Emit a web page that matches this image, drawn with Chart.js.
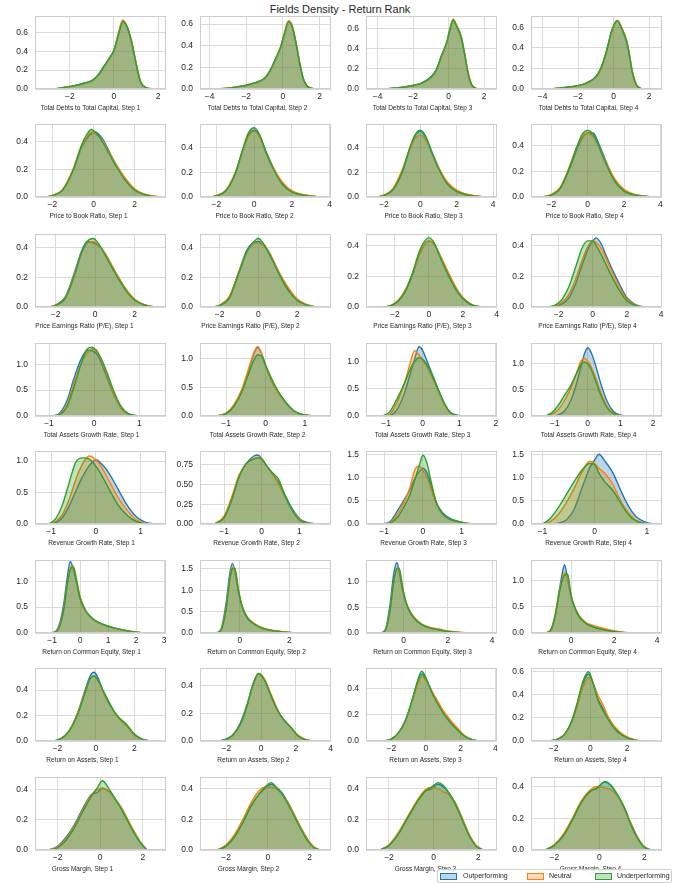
<!DOCTYPE html>
<html>
<head>
<meta charset="utf-8">
<script src="https://cdn.jsdelivr.net/npm/chart.js@4.4.1/dist/chart.umd.min.js"></script>
<style>
  body { margin: 0; background: #fff; font-family: "Liberation Sans", Arial, sans-serif; }
  #page { position: relative; width: 690px; height: 883px; overflow: hidden; }
  #title { position: absolute; left: 0; top: 3px; width: 680px; text-align: center; font-size: 11px; line-height: 12px; color: #262626; }
  canvas { position: absolute; }
  #legend { position: absolute; left: 437px; top: 869px; width: 233px; height: 12px; border: 1px solid #d0d0d0; border-radius: 2px; background: rgba(255,255,255,0.85); z-index: 5; font-size: 7px; color: #262626; }
  #legend i { position: absolute; top: 3px; width: 15px; height: 5px; border: 1px solid; }
  #legend span { position: absolute; top: 1px; line-height: 10px; }
</style>
</head>
<body>
<div id="page">
  <div id="title">Fields Density - Return Rank</div>
  <div id="legend">
    <i style="left:2px;background:rgba(31,119,180,0.3);border-color:#1f77b4"></i><span style="left:25px">Outperforming</span>
    <i style="left:89px;background:rgba(255,127,14,0.3);border-color:#ff7f0e"></i><span style="left:111px">Neutral</span>
    <i style="left:157px;background:rgba(44,160,44,0.3);border-color:#2ca02c"></i><span style="left:179px">Underperforming</span>
  </div>
</div>
<script>
// ---- data: one row per field, one inner list per step ----
const fieldNames = ['Total Debts to Total Capital', 'Price to Book Ratio', 'Price Earnings Ratio (P/E)',
  'Total Assets Growth Rate', 'Revenue Growth Rate', 'Return on Common Equity', 'Return on Assets', 'Gross Margin'];
const seriesNames = ['Outperforming', 'Neutral', 'Underperforming'];

// Total Debts to Total Capital
const debtX = [
  [-2.7,-2.2,-1.8,-1.4,-1.0,-0.7,-0.45,-0.2,0.0,0.2,0.4,0.6,0.8,1.0,1.2,1.45,1.8],
  [-3.6,-3.0,-2.5,-2.0,-1.5,-1.0,-0.7,-0.4,-0.1,0.1,0.3,0.5,0.7,0.9,1.1,1.3,1.6,1.9],
  [-3.6,-3.0,-2.5,-2.0,-1.5,-1.0,-0.7,-0.4,-0.1,0.1,0.25,0.45,0.7,0.9,1.1,1.3,1.6],
  [-3.6,-3.0,-2.5,-2.0,-1.5,-1.0,-0.7,-0.4,-0.1,0.2,0.5,0.75,0.9,1.05,1.3,1.6]];
const debtOut = [
  [0,0.02,0.035,0.06,0.09,0.155,0.245,0.33,0.41,0.58,0.72,0.65,0.5,0.28,0.08,0.015,0],
  [0,0.008,0.02,0.035,0.058,0.1,0.17,0.28,0.4,0.52,0.62,0.58,0.44,0.25,0.1,0.03,0.005,0],
  [0,0.01,0.02,0.036,0.06,0.12,0.19,0.33,0.46,0.6,0.68,0.62,0.52,0.35,0.15,0.04,0],
  [0,0.01,0.02,0.033,0.06,0.12,0.21,0.37,0.57,0.665,0.58,0.46,0.32,0.17,0.035,0]];
const debtNeu = [
  [0,0.018,0.033,0.055,0.085,0.15,0.235,0.325,0.41,0.59,0.73,0.66,0.5,0.28,0.085,0.015,0],
  [0,0.008,0.018,0.033,0.055,0.1,0.17,0.27,0.4,0.53,0.63,0.59,0.44,0.26,0.1,0.03,0.005,0],
  [0,0.01,0.02,0.034,0.055,0.11,0.18,0.32,0.46,0.61,0.69,0.63,0.52,0.35,0.16,0.045,0],
  [0,0.01,0.02,0.032,0.058,0.115,0.2,0.36,0.56,0.67,0.58,0.46,0.33,0.18,0.04,0]];
const debtUnd = [
  [0,0.02,0.035,0.058,0.088,0.15,0.24,0.33,0.41,0.57,0.71,0.66,0.5,0.27,0.08,0.015,0],
  [0,0.008,0.02,0.035,0.058,0.1,0.17,0.28,0.4,0.52,0.62,0.58,0.43,0.25,0.1,0.03,0.005,0],
  [0,0.01,0.02,0.035,0.058,0.115,0.185,0.33,0.47,0.61,0.68,0.62,0.51,0.34,0.15,0.04,0],
  [0,0.01,0.02,0.033,0.06,0.12,0.21,0.37,0.57,0.665,0.57,0.45,0.32,0.17,0.035,0]];
const debtXLim = [[-3.58,2.36],[-4.52,2.62],[-4.65,2.72],[-4.66,2.73]];
const debtYMax = [0.773,0.674,0.72,0.711];
const debtXTicks = [[-2,0,2],[-4,-2,0,2],[-4,-2,0,2],[-4,-2,0,2]];
const debtYTicks = [[0,0.2,0.4,0.6],[0,0.2,0.4,0.6],[0,0.2,0.4,0.6],[0,0.2,0.4,0.6]];

// Price to Book Ratio
const pbX = [
  [-2.3,-2.0,-1.5,-1.0,-0.6,-0.3,-0.1,0.1,0.4,0.7,1.0,1.5,2.0,2.5,3.0,3.3],
  [-2.3,-2.0,-1.5,-1.0,-0.6,-0.3,0.0,0.3,0.6,1.0,1.5,2.0,2.5,3.0,3.5],
  [-2.4,-2.0,-1.5,-1.0,-0.6,-0.3,0.0,0.3,0.6,1.0,1.5,2.0,2.5,3.0,3.6],
  [-2.5,-2.0,-1.5,-1.0,-0.6,-0.3,0.0,0.3,0.6,1.0,1.5,2.0,2.5,3.0,3.6]];
const pbOut = [
  [0,0.01,0.05,0.19,0.35,0.43,0.46,0.47,0.43,0.35,0.26,0.14,0.055,0.018,0.004,0],
  [0,0.01,0.05,0.19,0.38,0.5,0.54,0.49,0.38,0.24,0.11,0.045,0.02,0.008,0],
  [0,0.012,0.06,0.2,0.38,0.49,0.53,0.48,0.38,0.24,0.11,0.05,0.022,0.008,0],
  [0,0.015,0.07,0.22,0.37,0.46,0.5,0.5,0.42,0.28,0.13,0.05,0.02,0.008,0]];
const pbNeu = [
  [0,0.012,0.055,0.2,0.36,0.44,0.47,0.46,0.42,0.34,0.26,0.145,0.058,0.02,0.005,0],
  [0,0.012,0.055,0.2,0.38,0.49,0.53,0.48,0.37,0.24,0.12,0.05,0.022,0.01,0],
  [0,0.014,0.07,0.22,0.38,0.47,0.5,0.46,0.37,0.24,0.12,0.055,0.025,0.01,0],
  [0,0.02,0.08,0.24,0.39,0.47,0.5,0.47,0.4,0.27,0.14,0.06,0.025,0.01,0]];
const pbUnd = [
  [0,0.01,0.05,0.19,0.37,0.46,0.49,0.47,0.41,0.33,0.25,0.13,0.05,0.015,0.003,0],
  [0,0.01,0.05,0.19,0.39,0.52,0.56,0.5,0.37,0.23,0.1,0.04,0.017,0.006,0],
  [0,0.012,0.06,0.2,0.39,0.5,0.54,0.49,0.37,0.23,0.1,0.045,0.018,0.006,0],
  [0,0.015,0.07,0.23,0.39,0.49,0.52,0.49,0.4,0.26,0.12,0.045,0.018,0.006,0]];
const pbXLim = [[-2.84,3.52],[-2.87,4.07],[-2.99,4.22],[-3.12,4.09]];
const pbYMax = [0.53,0.59,0.59,0.57];
const pbXTicks = [[-2,0,2],[-2,0,2,4],[-2,0,2,4],[-2,0,2,4]];
const pbYTicks = [[0,0.2,0.4],[0,0.2,0.4],[0,0.2,0.4],[0,0.2,0.4]];

// Price Earnings Ratio (P/E)
const peX = [
  [-2.3,-2.0,-1.5,-1.0,-0.7,-0.4,-0.1,0.2,0.5,1.0,1.5,2.0,2.5,3.0],
  [-2.3,-2.0,-1.5,-1.0,-0.6,-0.3,0.0,0.3,0.6,1.0,1.5,2.0,2.5,3.0],
  [-2.6,-2.2,-1.8,-1.4,-1.0,-0.6,-0.3,0.0,0.3,0.6,1.0,1.4,1.8,2.2,2.6,3.1],
  [-2.6,-2.2,-1.8,-1.4,-1.0,-0.6,-0.3,0.0,0.2,0.5,0.8,1.2,1.6,2.0,2.5,3.0]];
const peOut = [
  [0,0.012,0.07,0.25,0.37,0.44,0.43,0.41,0.36,0.24,0.13,0.05,0.014,0],
  [0,0.012,0.07,0.24,0.38,0.43,0.44,0.41,0.35,0.25,0.13,0.05,0.015,0],
  [0,0.01,0.04,0.1,0.2,0.33,0.4,0.43,0.41,0.35,0.25,0.16,0.09,0.04,0.012,0],
  [0,0.005,0.02,0.06,0.15,0.28,0.37,0.43,0.45,0.41,0.33,0.23,0.14,0.06,0.015,0]];
const peNeu = [
  [0,0.012,0.065,0.24,0.36,0.43,0.44,0.41,0.36,0.24,0.13,0.052,0.015,0],
  [0,0.012,0.07,0.24,0.37,0.42,0.43,0.41,0.36,0.25,0.14,0.055,0.016,0],
  [0,0.012,0.045,0.11,0.21,0.33,0.4,0.43,0.41,0.35,0.26,0.17,0.09,0.04,0.012,0],
  [0,0.008,0.03,0.08,0.18,0.31,0.39,0.43,0.42,0.38,0.31,0.21,0.12,0.05,0.013,0]];
const peUnd = [
  [0,0.01,0.06,0.23,0.36,0.44,0.46,0.42,0.35,0.23,0.12,0.045,0.012,0],
  [0,0.01,0.06,0.23,0.37,0.43,0.46,0.42,0.35,0.24,0.12,0.045,0.012,0],
  [0,0.01,0.04,0.1,0.21,0.35,0.42,0.45,0.42,0.34,0.24,0.15,0.08,0.035,0.01,0],
  [0,0.012,0.05,0.13,0.26,0.39,0.43,0.43,0.4,0.34,0.27,0.18,0.1,0.04,0.01,0]];
const peXLim = [[-3.04,3.58],[-3.02,3.76],[-3.71,4.02],[-3.61,4.05]];
const peYMax = [0.49,0.49,0.475,0.475];
const peXTicks = [[-2,0,2],[-2,0,2],[-2,0,2,4],[-2,0,2,4]];
const peYTicks = [[0,0.2,0.4],[0,0.2,0.4],[0,0.2,0.4],[0,0.2,0.4]];

// Total Assets Growth Rate
const tagX = [
  [-0.95,-0.8,-0.6,-0.45,-0.3,-0.15,-0.05,0.05,0.15,0.3,0.45,0.6,0.75,0.9,1.1],
  [-1.25,-1.0,-0.8,-0.6,-0.45,-0.3,-0.2,-0.1,0.0,0.15,0.3,0.5,0.7,0.9,1.1,1.3],
  [-1.1,-0.9,-0.7,-0.5,-0.35,-0.22,-0.1,0.0,0.15,0.3,0.45,0.6,0.75,0.9,1.1,1.3],
  [-1.3,-1.1,-0.9,-0.7,-0.5,-0.35,-0.2,-0.1,0.0,0.1,0.25,0.4,0.6,0.8,1.0,1.2]];
const tagOut = [
  [0,0.03,0.3,0.72,1.08,1.27,1.26,1.2,1.05,0.7,0.38,0.14,0.04,0.01,0],
  [0,0.04,0.18,0.45,0.75,1.08,1.2,1.1,0.88,0.62,0.44,0.25,0.1,0.03,0.01,0],
  [0,0.01,0.12,0.42,0.75,1.05,1.27,1.2,0.95,0.7,0.45,0.22,0.07,0.02,0.005,0],
  [0,0,0.02,0.1,0.32,0.6,0.95,1.18,1.3,1.22,0.95,0.62,0.27,0.08,0.02,0]];
const tagNeu = [
  [0,0.02,0.22,0.62,1.0,1.22,1.3,1.28,1.1,0.75,0.4,0.15,0.04,0.01,0],
  [0,0.05,0.2,0.47,0.78,1.1,1.22,1.1,0.88,0.62,0.43,0.24,0.1,0.03,0.01,0],
  [0,0.03,0.25,0.6,0.95,1.2,1.12,1.02,0.86,0.65,0.42,0.2,0.06,0.015,0,0],
  [0,0.03,0.12,0.3,0.55,0.8,1.05,1.1,1.05,0.95,0.72,0.45,0.18,0.05,0.01,0]];
const tagUnd = [
  [0,0.015,0.18,0.55,0.98,1.3,1.33,1.25,1.12,0.8,0.45,0.18,0.05,0.01,0],
  [0,0.04,0.17,0.42,0.7,0.97,1.07,1.05,0.9,0.66,0.46,0.25,0.1,0.03,0.01,0],
  [0,0.08,0.32,0.6,0.85,1.0,1.07,1.04,0.9,0.68,0.44,0.22,0.07,0.015,0,0],
  [0,0.06,0.2,0.4,0.6,0.8,0.98,1.03,1.0,0.9,0.66,0.4,0.15,0.04,0.005,0]];
const tagXLim = [[-1.31,1.59],[-1.66,1.66],[-1.55,2.03],[-1.73,2.27]];
const tagYMax = [1.41,1.28,1.34,1.39];
const tagXTicks = [[-1,0,1],[-1,0,1],[-1,0,1,2],[-1,0,1,2]];
const tagYTicks = [[0,0.5,1.0],[0,0.5,1.0],[0,0.5,1.0],[0,0.5,1.0]];

// Revenue Growth Rate
const revX = [
  [-1.05,-0.9,-0.75,-0.6,-0.45,-0.3,-0.15,0.0,0.15,0.3,0.5,0.7,0.9,1.1,1.3],
  [-1.25,-1.0,-0.8,-0.6,-0.4,-0.2,-0.1,0.0,0.15,0.3,0.45,0.6,0.8,1.0,1.2,1.5],
  [-1.05,-0.85,-0.65,-0.5,-0.35,-0.2,-0.1,0.0,0.1,0.2,0.35,0.5,0.7,0.9,1.1,1.4],
  [-1.0,-0.85,-0.7,-0.55,-0.4,-0.25,-0.1,0.0,0.08,0.2,0.35,0.5,0.65,0.8,1.0,1.15]];
const revOut = [
  [0,0.02,0.1,0.28,0.52,0.75,0.92,1.02,0.94,0.8,0.55,0.3,0.12,0.03,0],
  [0,0.08,0.3,0.6,0.77,0.86,0.87,0.82,0.72,0.62,0.52,0.38,0.2,0.07,0.02,0],
  [0,0.05,0.3,0.5,0.72,1.0,1.12,1.2,1.1,0.85,0.45,0.25,0.12,0.06,0.02,0],
  [0,0,0.02,0.08,0.3,0.75,1.2,1.38,1.5,1.35,1.1,0.72,0.38,0.15,0.03,0]];
const revNeu = [
  [0,0.04,0.15,0.38,0.7,0.95,1.08,1.02,0.88,0.68,0.42,0.22,0.07,0.01,0],
  [0,0.1,0.34,0.62,0.76,0.83,0.84,0.82,0.72,0.62,0.5,0.36,0.18,0.06,0.015,0],
  [0,0.03,0.22,0.45,0.75,1.18,1.25,1.15,1.0,0.78,0.42,0.22,0.1,0.05,0.015,0],
  [0,0.05,0.2,0.45,0.75,1.1,1.35,1.3,1.2,1.08,0.85,0.5,0.25,0.08,0.01,0]];
const revUnd = [
  [0,0.08,0.3,0.65,0.98,1.05,1.03,0.92,0.75,0.55,0.3,0.14,0.04,0.005,0],
  [0,0.08,0.3,0.6,0.77,0.82,0.83,0.82,0.72,0.64,0.56,0.38,0.18,0.05,0.012,0],
  [0,0.02,0.15,0.36,0.6,0.98,1.25,1.48,1.32,0.95,0.45,0.22,0.1,0.05,0.015,0],
  [0,0.12,0.35,0.62,0.9,1.15,1.3,1.28,1.1,0.9,0.72,0.45,0.2,0.06,0.008,0]];
const revXLim = [[-1.36,1.57],[-1.64,1.84],[-1.47,1.91],[-1.22,1.29]];
const revYMax = [1.16,0.92,1.57,1.57];
const revXTicks = [[-1,0,1],[-1,0,1],[-1,0,1],[-1,0,1]];
const revYTicks = [[0,0.5,1.0],[0,0.25,0.5,0.75],[0,0.5,1.0,1.5],[0,0.5,1.0,1.5]];

// Return on Common Equity
const roeX = [
  [-1.0,-0.8,-0.6,-0.45,-0.35,-0.25,-0.1,0.0,0.2,0.4,0.6,0.9,1.2,1.6,2.0,2.3],
  [-0.95,-0.75,-0.55,-0.4,-0.3,-0.2,-0.05,0.1,0.3,0.5,0.8,1.1,1.5,2.0,2.4],
  [-1.0,-0.8,-0.6,-0.45,-0.3,-0.2,-0.05,0.1,0.3,0.5,0.8,1.2,1.6,2.0,2.5,3.0],
  [-1.2,-0.95,-0.75,-0.55,-0.4,-0.3,-0.15,0.0,0.2,0.4,0.7,1.0,1.4,1.9,2.4,2.9]];
const roeOut = [
  [0,0.08,0.5,1.1,1.38,1.25,0.9,0.66,0.42,0.3,0.22,0.15,0.1,0.05,0.015,0],
  [0,0.1,0.7,1.4,1.63,1.45,0.95,0.6,0.35,0.24,0.14,0.08,0.04,0.01,0],
  [0,0.1,0.6,1.15,1.38,1.2,0.85,0.6,0.4,0.28,0.17,0.1,0.06,0.03,0.01,0],
  [0,0.05,0.3,0.8,1.15,1.3,1.0,0.7,0.45,0.3,0.18,0.12,0.08,0.04,0.012,0]];
const roeNeu = [
  [0,0.06,0.42,0.98,1.25,1.3,0.95,0.7,0.44,0.3,0.22,0.15,0.1,0.055,0.02,0],
  [0,0.08,0.6,1.3,1.55,1.5,1.0,0.62,0.38,0.26,0.15,0.09,0.05,0.015,0],
  [0,0.08,0.5,1.0,1.28,1.25,0.9,0.62,0.42,0.3,0.18,0.11,0.08,0.04,0.015,0],
  [0,0.06,0.32,0.78,1.05,1.15,1.02,0.72,0.47,0.32,0.2,0.15,0.1,0.05,0.015,0]];
const roeUnd = [
  [0,0.05,0.4,0.95,1.22,1.28,0.95,0.68,0.43,0.3,0.22,0.15,0.1,0.05,0.015,0],
  [0,0.07,0.55,1.25,1.5,1.52,1.0,0.62,0.36,0.24,0.14,0.08,0.04,0.01,0],
  [0,0.07,0.48,1.0,1.26,1.27,0.9,0.62,0.4,0.28,0.17,0.1,0.06,0.03,0.01,0],
  [0,0.05,0.3,0.75,1.02,1.1,1.12,0.72,0.46,0.3,0.18,0.12,0.07,0.035,0.01,0]];
const roeXLim = [[-1.61,3.07],[-1.6,3.67],[-1.7,4.22],[-1.86,4.23]];
const roeYMax = [1.41,1.71,1.43,1.39];
const roeXTicks = [[-1,0,1,2,3],[0,2],[0,2,4],[0,2,4]];
const roeYTicks = [[0,0.5,1.0],[0,0.5,1.0,1.5],[0,0.5,1.0],[0,0.5,1.0]];

// Return on Assets
const roaX = [
  [-2.2,-1.8,-1.4,-1.0,-0.6,-0.3,-0.1,0.1,0.4,0.7,1.0,1.3,1.6,2.0,2.4,2.8],
  [-2.4,-2.0,-1.6,-1.2,-0.8,-0.5,-0.15,0.2,0.5,0.8,1.1,1.4,1.7,2.1,2.5,2.9],
  [-2.4,-2.0,-1.6,-1.2,-0.8,-0.5,-0.25,0.0,0.3,0.6,1.0,1.4,1.8,2.2,2.6,3.0],
  [-2.2,-1.8,-1.4,-1.0,-0.7,-0.4,-0.1,0.15,0.4,0.7,1.0,1.3,1.6,2.0,2.4,2.8]];
const roaOut = [
  [0,0.02,0.08,0.2,0.38,0.51,0.54,0.5,0.38,0.29,0.22,0.16,0.12,0.05,0.015,0],
  [0,0.015,0.05,0.13,0.27,0.4,0.49,0.44,0.35,0.26,0.19,0.14,0.1,0.04,0.012,0],
  [0,0.015,0.06,0.15,0.31,0.44,0.51,0.47,0.39,0.31,0.22,0.15,0.09,0.04,0.012,0],
  [0,0.015,0.06,0.18,0.33,0.5,0.58,0.5,0.37,0.28,0.19,0.12,0.07,0.03,0.01,0]];
const roaNeu = [
  [0,0.02,0.08,0.2,0.37,0.49,0.51,0.48,0.38,0.3,0.22,0.16,0.12,0.05,0.015,0],
  [0,0.012,0.045,0.12,0.26,0.39,0.49,0.45,0.36,0.27,0.19,0.14,0.1,0.045,0.014,0],
  [0,0.015,0.06,0.15,0.3,0.42,0.49,0.46,0.39,0.32,0.23,0.16,0.1,0.045,0.014,0],
  [0,0.015,0.06,0.17,0.31,0.47,0.55,0.5,0.4,0.31,0.2,0.13,0.08,0.035,0.012,0]];
const roaUnd = [
  [0,0.02,0.075,0.19,0.36,0.49,0.51,0.48,0.39,0.3,0.22,0.17,0.13,0.055,0.015,0],
  [0,0.012,0.045,0.12,0.26,0.4,0.49,0.44,0.35,0.26,0.19,0.14,0.1,0.04,0.012,0],
  [0,0.015,0.06,0.15,0.31,0.45,0.53,0.48,0.38,0.3,0.21,0.14,0.085,0.04,0.012,0],
  [0,0.015,0.06,0.18,0.34,0.52,0.6,0.5,0.36,0.26,0.18,0.11,0.065,0.03,0.01,0]];
const roaXLim = [[-3.17,3.65],[-3.52,4.02],[-3.46,4.1],[-3.24,3.91]];
const roaYMax = [0.573,0.53,0.555,0.632];
const roaXTicks = [[-2,0,2],[-2,0,2,4],[-2,0,2,4],[-2,0,2]];
const roaYTicks = [[0,0.2,0.4],[0,0.2,0.4],[0,0.2,0.4],[0,0.2,0.4,0.6]];

// Gross Margin
const gmX = [
  [-2.4,-2.0,-1.6,-1.2,-0.8,-0.4,-0.15,0.1,0.4,0.7,1.0,1.3,1.6,1.9,2.2],
  [-2.4,-2.0,-1.6,-1.2,-0.8,-0.4,-0.15,0.15,0.4,0.7,1.0,1.3,1.6,1.9,2.2,2.5],
  [-2.4,-2.0,-1.6,-1.2,-0.8,-0.4,-0.1,0.2,0.45,0.7,1.0,1.3,1.6,1.9,2.2],
  [-2.4,-2.0,-1.6,-1.2,-0.8,-0.4,-0.1,0.25,0.5,0.8,1.1,1.4,1.7,2.0,2.3]];
const gmOut = [
  [0,0.025,0.085,0.17,0.28,0.37,0.38,0.41,0.39,0.34,0.28,0.2,0.12,0.05,0],
  [0,0.03,0.09,0.18,0.29,0.37,0.4,0.43,0.41,0.37,0.3,0.22,0.14,0.07,0.02,0],
  [0,0.03,0.1,0.2,0.3,0.38,0.4,0.43,0.41,0.37,0.3,0.2,0.1,0.03,0],
  [0,0.03,0.09,0.19,0.3,0.37,0.39,0.43,0.41,0.35,0.27,0.17,0.08,0.02,0]];
const gmNeu = [
  [0,0.02,0.075,0.16,0.27,0.37,0.4,0.41,0.39,0.34,0.28,0.2,0.12,0.05,0],
  [0,0.035,0.1,0.2,0.31,0.39,0.41,0.41,0.4,0.36,0.3,0.22,0.14,0.07,0.02,0],
  [0,0.035,0.11,0.21,0.31,0.39,0.41,0.4,0.38,0.36,0.3,0.2,0.1,0.03,0],
  [0,0.035,0.1,0.2,0.31,0.38,0.4,0.39,0.38,0.34,0.27,0.17,0.08,0.02,0]];
const gmUnd = [
  [0,0.015,0.065,0.15,0.26,0.36,0.41,0.46,0.41,0.34,0.27,0.19,0.11,0.045,0],
  [0,0.025,0.085,0.18,0.29,0.37,0.41,0.44,0.41,0.36,0.29,0.21,0.13,0.06,0.015,0],
  [0,0.03,0.1,0.2,0.3,0.38,0.41,0.44,0.42,0.37,0.29,0.19,0.09,0.025,0],
  [0,0.03,0.09,0.19,0.3,0.37,0.39,0.43,0.41,0.35,0.27,0.16,0.075,0.018,0]];
const gmXLim = [[-3.06,3.09],[-3.25,3.02],[-3.03,2.84],[-3.04,2.79]];
const gmYMax = [0.485,0.477,0.477,0.46];
const gmXTicks = [[-2,0,2],[-2,0,2],[-2,0,2],[-2,0,2]];
const gmYTicks = [[0,0.2,0.4],[0,0.2,0.4],[0,0.2,0.4],[0,0.2,0.4]];

// ---- layout and style ----
const colLeft = [35, 200, 366, 531];
const rowTop = [16, 124, 234, 343, 451, 560, 668, 777];
const plotW = 131, plotH = 73;
const yAxisW = 35, xAxisH = 25, padTop = 6, padRight = 5;
// the x labels in the source sit a little left of the plot centre
const labelShift = [
  [-10, -8, -9, -8], [-12, -11, -8, -12], [-16, -15, -9, -9], [-9, -8, -9, -8],
  [-9, -9, -8, -8], [-9, -9, -9, -9], [-18, -12, -6, -6], [-18, -17, -6, -6]];
const lineColors = ['#1f77b4', '#ff7f0e', '#2ca02c'];
const fillColors = ['rgba(31,119,180,0.3)', 'rgba(255,127,14,0.3)', 'rgba(44,160,44,0.3)'];
const gridColor = '#dadada';
const edgeColor = '#cccccc';
const textColor = '#262626';
const family = '"Liberation Sans", Arial, sans-serif';

const fields = [
  { x: debtX, out: debtOut, neu: debtNeu, und: debtUnd, xlim: debtXLim, ymax: debtYMax, xt: debtXTicks, yt: debtYTicks },
  { x: pbX, out: pbOut, neu: pbNeu, und: pbUnd, xlim: pbXLim, ymax: pbYMax, xt: pbXTicks, yt: pbYTicks },
  { x: peX, out: peOut, neu: peNeu, und: peUnd, xlim: peXLim, ymax: peYMax, xt: peXTicks, yt: peYTicks },
  { x: tagX, out: tagOut, neu: tagNeu, und: tagUnd, xlim: tagXLim, ymax: tagYMax, xt: tagXTicks, yt: tagYTicks },
  { x: revX, out: revOut, neu: revNeu, und: revUnd, xlim: revXLim, ymax: revYMax, xt: revXTicks, yt: revYTicks },
  { x: roeX, out: roeOut, neu: roeNeu, und: roeUnd, xlim: roeXLim, ymax: roeYMax, xt: roeXTicks, yt: roeYTicks },
  { x: roaX, out: roaOut, neu: roaNeu, und: roaUnd, xlim: roaXLim, ymax: roaYMax, xt: roaXTicks, yt: roaYTicks },
  { x: gmX, out: gmOut, neu: gmNeu, und: gmUnd, xlim: gmXLim, ymax: gmYMax, xt: gmXTicks, yt: gmYTicks }
];

// box round each plot, like the matplotlib spines
const frame = {
  id: 'frame',
  afterDraw(chart) {
    const a = chart.chartArea;
    const ctx = chart.ctx;
    ctx.save();
    ctx.strokeStyle = edgeColor;
    ctx.lineWidth = 1;
    ctx.strokeRect(Math.round(a.left) + 0.5, Math.round(a.top) + 0.5, Math.round(a.width) - 1, Math.round(a.height) - 1);
    ctx.restore();
  }
};

// x label under each plot
const xlabel = {
  id: 'xlabel',
  afterDraw(chart, args, opts) {
    const a = chart.chartArea;
    const ctx = chart.ctx;
    ctx.save();
    ctx.font = '6.5px ' + family;
    ctx.fillStyle = textColor;
    ctx.textAlign = 'center';
    ctx.textBaseline = 'middle';
    ctx.fillText(opts.text, (a.left + a.right) / 2 + opts.dx, a.bottom + 19);
    ctx.restore();
  }
};

function minus(v) {
  return v < 0 ? '\u2212' + Math.abs(v) : String(v);
}

// keep every plot area the same size, whatever the tick labels need
function fixAxis(axis, size) {
  if (axis.isHorizontal()) axis.height = size; else axis.width = size;
  axis.paddingTop = 0;
  axis.paddingBottom = 0;
  axis.paddingLeft = 0;
  axis.paddingRight = 0;
}

function drawPanel(canvas, f, r, s) {
  const xs = f.x[s];
  const datasets = [f.out[s], f.neu[s], f.und[s]].map((ys, k) => ({
    label: seriesNames[k],
    data: xs.map((x, i) => ({ x: x, y: ys[i] })),
    borderColor: lineColors[k],
    backgroundColor: fillColors[k],
    borderWidth: 1.4,
    fill: 'origin',
    pointRadius: 0,
    cubicInterpolationMode: 'monotone',
    order: 3 - k
  }));
  const yt = f.yt[s];
  const dec = yt.some(v => Math.abs(v * 10 - Math.round(v * 10)) > 1e-9) ? 2 : 1;

  new Chart(canvas, {
    type: 'line',
    data: { datasets: datasets },
    options: {
      responsive: false,
      animation: false,
      events: [],
      layout: { padding: { left: 0, top: padTop, right: padRight, bottom: 0 } },
      plugins: {
        legend: { display: false },
        tooltip: { enabled: false },
        xlabel: { text: fieldNames[r] + ', Step ' + (s + 1), dx: labelShift[r][s] }
      },
      scales: {
        x: {
          type: 'linear',
          min: f.xlim[s][0],
          max: f.xlim[s][1],
          afterBuildTicks: axis => { axis.ticks = f.xt[s].map(v => ({ value: v })); },
          afterFit: axis => fixAxis(axis, xAxisH),
          grid: { color: gridColor, drawTicks: false },
          border: { display: false },
          ticks: { color: textColor, font: { size: 8.5, family: family }, padding: 3, maxRotation: 0, autoSkip: false, callback: v => minus(v) }
        },
        y: {
          min: 0,
          max: f.ymax[s],
          afterBuildTicks: axis => { axis.ticks = yt.map(v => ({ value: v })); },
          afterFit: axis => fixAxis(axis, yAxisW),
          grid: { color: gridColor, drawTicks: false },
          border: { display: false },
          ticks: { color: textColor, font: { size: 8.5, family: family }, padding: 7, autoSkip: false, callback: v => v.toFixed(dec) }
        }
      }
    },
    plugins: [frame, xlabel]
  });
}

const page = document.getElementById('page');
fields.forEach((f, r) => {
  for (let s = 0; s < 4; s++) {
    const c = document.createElement('canvas');
    c.width = yAxisW + plotW + padRight;
    c.height = padTop + plotH + xAxisH;
    c.style.left = (colLeft[s] - yAxisW) + 'px';
    c.style.top = (rowTop[r] - padTop) + 'px';
    page.appendChild(c);
    drawPanel(c, f, r, s);
  }
});
</script>
</body>
</html>
